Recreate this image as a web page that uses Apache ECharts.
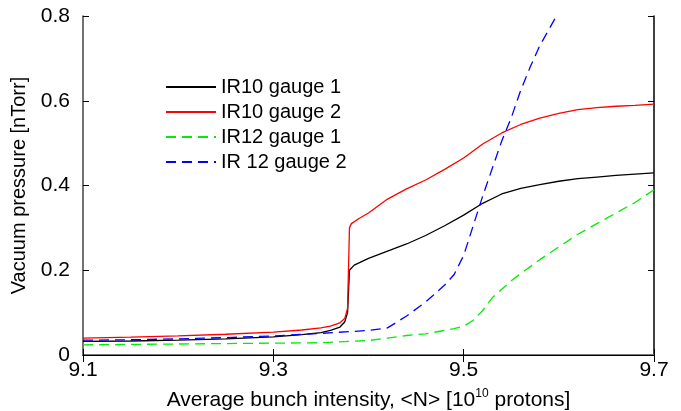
<!DOCTYPE html>
<html>
<head>
<meta charset="utf-8">
<script src="https://cdn.jsdelivr.net/npm/echarts@6/dist/echarts.min.js"></script>
<style>
  html, body { margin: 0; padding: 0; background: #fff; }
  #chart { width: 681px; height: 411px; }
</style>
</head>
<body>
<div id="chart"></div>
<script>
// x ticks and y ticks
const xTicks = [9.1, 9.3, 9.5, 9.7];
const yTicks = [0, 0.2, 0.4, 0.6, 0.8];

// [intensity, pressure]
const ir10g1 = [
  [9.1, 0.032], [9.15, 0.033], [9.2, 0.035], [9.25, 0.038], [9.3, 0.043],
  [9.33, 0.048], [9.35, 0.053], [9.36, 0.058], [9.37, 0.066], [9.375, 0.078],
  [9.378, 0.1], [9.38, 0.2], [9.385, 0.212], [9.4, 0.228], [9.42, 0.245],
  [9.44, 0.262], [9.46, 0.282], [9.48, 0.305], [9.5, 0.33], [9.52, 0.358],
  [9.54, 0.38], [9.56, 0.393], [9.58, 0.402], [9.6, 0.41], [9.62, 0.416],
  [9.64, 0.42], [9.66, 0.424], [9.68, 0.427], [9.7, 0.43]
];
const ir10g2 = [
  [9.1, 0.04], [9.15, 0.042], [9.2, 0.045], [9.25, 0.049], [9.3, 0.054],
  [9.33, 0.059], [9.35, 0.064], [9.36, 0.068], [9.37, 0.076], [9.375, 0.086],
  [9.378, 0.11], [9.38, 0.3], [9.382, 0.31], [9.39, 0.322], [9.4, 0.335],
  [9.42, 0.368], [9.44, 0.392], [9.46, 0.413], [9.48, 0.438], [9.5, 0.465],
  [9.52, 0.498], [9.54, 0.524], [9.56, 0.544], [9.58, 0.559], [9.6, 0.57],
  [9.62, 0.579], [9.64, 0.584], [9.66, 0.587], [9.68, 0.589], [9.7, 0.592]
];
const ir12g1 = [
  [9.1, 0.024], [9.15, 0.025], [9.2, 0.026], [9.25, 0.027], [9.3, 0.028],
  [9.35, 0.029], [9.4, 0.034], [9.42, 0.04], [9.44, 0.046], [9.46, 0.05],
  [9.48, 0.058], [9.49, 0.062], [9.5, 0.068], [9.51, 0.082], [9.52, 0.105],
  [9.53, 0.135], [9.54, 0.155], [9.55, 0.175], [9.56, 0.192], [9.58, 0.225],
  [9.6, 0.255], [9.62, 0.285], [9.64, 0.31], [9.66, 0.335], [9.68, 0.36],
  [9.7, 0.39]
];
const ir12g2 = [
  [9.1, 0.035], [9.15, 0.036], [9.2, 0.038], [9.25, 0.041], [9.3, 0.045],
  [9.35, 0.051], [9.4, 0.058], [9.42, 0.064], [9.44, 0.092], [9.46, 0.125],
  [9.48, 0.165], [9.49, 0.19], [9.5, 0.235], [9.51, 0.305], [9.52, 0.375],
  [9.53, 0.44], [9.54, 0.505], [9.55, 0.56], [9.56, 0.625], [9.57, 0.68],
  [9.58, 0.73], [9.59, 0.77], [9.6, 0.81]
];

const font = 'Liberation Sans';
const chart = echarts.init(document.getElementById('chart'));

const mk = (name, data, color, dashed) => ({
  name: name,
  type: 'line',
  data: data,
  symbol: 'none',
  clip: true,
  lineStyle: { color: color, width: 1.3, type: dashed ? [10, 6] : 'solid' },
  itemStyle: { color: color }
});

chart.setOption({
  animation: false,
  textStyle: { fontFamily: font },
  grid: { left: 83, top: 16, right: 27, bottom: 56, outerBoundsMode: 'none' },
  legend: {
    orient: 'vertical',
    left: 165, top: 77, padding: 0,
    itemWidth: 50, itemHeight: 14, itemGap: 5,
    itemStyle: { opacity: 0 },
    textStyle: { fontSize: 20, color: '#000', fontFamily: font },
    data: ['IR10 gauge 1', 'IR10 gauge 2', 'IR12 gauge 1', 'IR 12 gauge 2']
  },
  xAxis: [{
    type: 'value', min: 9.1, max: 9.7,
    axisLine: { lineStyle: { color: '#777', width: 2 } },
    axisTick: { inside: true, length: 6, customValues: xTicks, lineStyle: { color: '#000' } },
    axisLabel: {
      customValues: xTicks, margin: 5, fontSize: 21, color: '#000',
      formatter: v => v.toFixed(1)
    },
    splitLine: { show: false },
    name: 'Average bunch intensity, <N> [10{sup|10} protons]',
    nameLocation: 'middle', nameGap: 33,
    nameTextStyle: {
      fontSize: 21, color: '#000',
      rich: { sup: { fontSize: 12, padding: [0, 0, 12, 0], color: '#000' } }
    }
  }, {
    type: 'value', min: 9.1, max: 9.7, position: 'top',
    axisLine: { lineStyle: { color: '#000', width: 1 } },
    axisTick: { inside: true, length: 7, customValues: xTicks },
    axisLabel: { show: false },
    splitLine: { show: false }
  }],
  yAxis: [{
    type: 'value', min: 0, max: 0.8, interval: 0.2,
    axisLine: { show: true, lineStyle: { color: '#444', width: 1.5 } },
    axisTick: { show: true, inside: true, length: 6, lineStyle: { color: '#000' } },
    axisLabel: {
      margin: 13, fontSize: 21, color: '#000',
      formatter: v => (v === 0 ? '0' : v.toFixed(1))
    },
    splitLine: { show: false },
    name: 'Vacuum pressure [nTorr]',
    nameLocation: 'middle', nameGap: 47,
    nameTextStyle: { fontSize: 20, color: '#000' }
  }, {
    type: 'value', min: 0, max: 0.8, interval: 0.2, position: 'right',
    axisLine: { show: true, lineStyle: { color: '#000', width: 1.5 } },
    axisTick: { show: true, inside: true, length: 6, lineStyle: { color: '#000' } },
    axisLabel: { show: false },
    splitLine: { show: false }
  }],
  series: [
    mk('IR10 gauge 1', ir10g1, '#000000', false),
    mk('IR10 gauge 2', ir10g2, '#ff0000', false),
    mk('IR12 gauge 1', ir12g1, '#00ee00', true),
    mk('IR 12 gauge 2', ir12g2, '#0000ff', true)
  ]
});
</script>
</body>
</html>
